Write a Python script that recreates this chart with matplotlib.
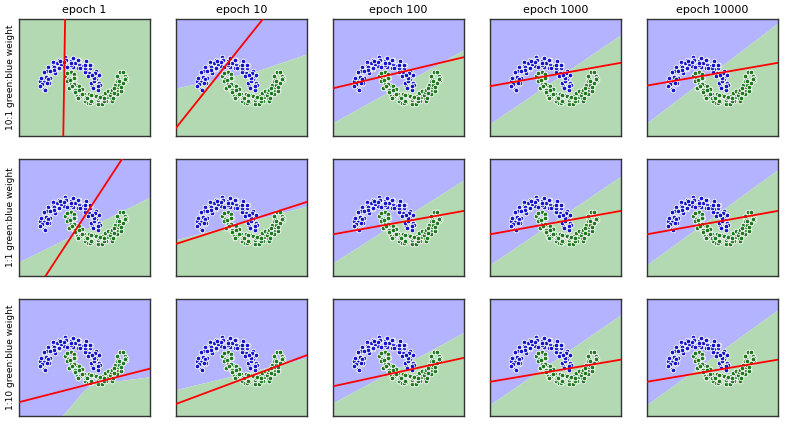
import matplotlib
matplotlib.use('Agg')
import matplotlib.pyplot as plt
import numpy as np

# two moons (data units)
blue_pts = [(0.92, -0.03), (0.75, 0.11), (0.97, 0.20), (0.81, 0.30), (1.01, 0.12), (0.78, 0.03),
            (0.87, 0.32), (0.70, 0.19), (0.93, 0.09), (0.95, 0.42), (0.80, 0.30), (0.73, 0.44),
            (0.80, 0.25), (0.96, 0.47), (0.73, 0.44), (0.81, 0.38), (0.64, 0.52), (0.86, 0.61),
            (0.65, 0.71), (0.85, 0.53), (0.62, 0.44), (0.68, 0.70), (0.51, 0.57), (0.74, 0.47),
            (0.71, 0.79), (0.56, 0.67), (0.49, 0.81), (0.53, 0.58), (0.69, 0.80), (0.46, 0.77),
            (0.50, 0.69), (0.33, 0.83), (0.55, 0.92), (0.31, 0.98), (0.51, 0.80), (0.28, 0.71),
            (0.31, 0.94), (0.14, 0.81), (0.37, 0.71), (0.33, 0.98), (0.18, 0.86), (0.11, 1.00),
            (0.12, 0.74), (0.28, 0.96), (0.05, 0.93), (0.08, 0.80), (-0.09, 0.94), (0.13, 1.03),
            (-0.12, 1.05), (0.08, 0.87), (-0.15, 0.78), (-0.12, 0.96), (-0.29, 0.83), (-0.06, 0.73),
            (-0.11, 0.96), (-0.26, 0.84), (-0.33, 0.98), (-0.31, 0.67), (-0.15, 0.89), (-0.38, 0.86),
            (-0.34, 0.69), (-0.51, 0.83), (-0.29, 0.92), (-0.52, 0.89), (-0.32, 0.71), (-0.55, 0.62),
            (-0.51, 0.77), (-0.68, 0.64), (-0.45, 0.54), (-0.47, 0.72), (-0.62, 0.60), (-0.69, 0.74),
            (-0.65, 0.40), (-0.49, 0.62), (-0.72, 0.59), (-0.65, 0.38), (-0.82, 0.52), (-0.60, 0.61),
            (-0.80, 0.56), (-0.60, 0.38), (-0.83, 0.29), (-0.75, 0.40), (-0.92, 0.27), (-0.69, 0.17),
            (-0.67, 0.34), (-0.82, 0.22), (-0.89, 0.36), (-0.80, -0.01), (-0.64, 0.21), (-0.87, 0.18),
            (-0.76, -0.03), (-0.93, 0.11), (-0.71, 0.20)]
green_pts = [(0.05, 0.56), (-0.12, 0.43), (0.11, 0.33), (0.16, 0.50), (0.01, 0.38), (-0.06, 0.52),
             (0.05, 0.15), (0.21, 0.37), (-0.02, 0.34), (0.12, 0.13), (-0.05, 0.27), (0.17, 0.36),
             (0.04, 0.30), (0.24, 0.12), (0.01, 0.03), (0.16, 0.15), (-0.01, 0.02), (0.22, -0.08),
             (0.31, 0.09), (0.16, -0.03), (0.09, 0.11), (0.25, -0.23), (0.41, -0.01), (0.18, -0.04),
             (0.36, -0.24), (0.19, -0.10), (0.41, -0.01), (0.32, -0.04), (0.52, -0.22), (0.29, -0.31),
             (0.47, -0.16), (0.30, -0.29), (0.53, -0.39), (0.65, -0.18), (0.50, -0.30), (0.43, -0.16),
             (0.61, -0.47), (0.77, -0.25), (0.54, -0.28), (0.75, -0.43), (0.58, -0.29), (0.80, -0.20),
             (0.72, -0.20), (0.92, -0.38), (0.69, -0.47), (0.89, -0.27), (0.72, -0.40), (0.95, -0.50),
             (1.08, -0.25), (0.93, -0.37), (0.86, -0.23), (1.05, -0.49), (1.21, -0.27), (0.98, -0.30),
             (1.18, -0.41), (1.01, -0.27), (1.23, -0.18), (1.15, -0.13), (1.35, -0.31), (1.12, -0.40),
             (1.31, -0.16), (1.14, -0.29), (1.37, -0.39), (1.48, -0.09), (1.33, -0.21), (1.26, -0.07),
             (1.43, -0.30), (1.59, -0.08), (1.36, -0.11), (1.54, -0.17), (1.37, -0.03), (1.59, 0.06),
             (1.49, 0.14), (1.69, -0.04), (1.46, -0.13), (1.62, 0.15), (1.45, 0.02), (1.68, -0.08),
             (1.76, 0.25), (1.61, 0.13), (1.54, 0.27), (1.67, 0.07), (1.83, 0.29), (1.60, 0.26),
             (1.74, 0.21), (1.57, 0.35), (1.79, 0.44), (1.65, 0.55), (1.85, 0.37), (1.62, 0.28),
             (1.73, 0.56), (1.56, 0.43), (1.79, 0.33)]

epochs = ['1', '10', '100', '1000', '10000']
ratios = ['10:1', '1:1', '1:10']

# red line: wx*x + wy*y + b = 0
red_wx = [[1.0, 1.296, 0.246, 0.185, 0.18],
          [1.582, 0.332, 0.185, 0.185, 0.185],
          [0.265, 0.386, 0.225, 0.175, 0.175]]
red_wy = [[-0.015, -1, -1, -1, -1],
          [-1, -1, -1, -1, -1],
          [-1, -1, -1, -1, -1]]
red_b = [[0.16, 0.787, 0.416, 0.388, 0.40],
         [-0.375, 0.034, 0.118, 0.118, 0.118],
         [-0.683, -0.548, -0.218, -0.148, -0.148]]

# background region boundary (blue above, green below)
bg_x = [[[-1.61, 2.61], [-1.61, 0.99, 2.61], [-1.61, 2.61], [-1.61, 2.61], [-1.61, 2.61]],
        [[-1.61, 2.61], [-1.61, 2.61], [-1.61, 2.61], [-1.61, 2.61], [-1.61, 2.61]],
        [[-1.61, -0.22, 0.5, 0.82, 2.61], [-1.61, 2.61], [-1.61, 2.61], [-1.61, 2.61], [-1.61, 2.61]]]
bg_y = [[[3.0, 3.0], [0.03, 0.6, 1.17], [-1.13, 1.31], [-1.16, 1.81], [-1.13, 2.2]],
        [[-1.1, 1.06], [-0.36, 0.76], [-1.13, 1.64], [-1.19, 1.76], [-1.19, 1.98]],
        [[-3.5, -1.57, -0.69, -0.5, -0.26], [-0.69, 0.37], [-1.13, 1.22], [-1.19, 1.81], [-1.19, 1.98]]]

xlim = (-1.61, 2.61)
ylim = (-1.57, 2.33)

bx, by = np.array(blue_pts).T
gx, gy = np.array(green_pts).T

fig = plt.figure(figsize=(7.89, 4.25), dpi=100)
W, H = 789.0, 425.0
lefts = [19, 176, 333, 490, 647]
tops = [19, 159, 299]

for r in range(3):
    for c in range(5):
        ax = fig.add_axes([lefts[c] / W, 1 - (tops[r] + 117) / H, 131 / W, 117 / H])
        xs = np.array(bg_x[r][c])
        ys = np.array(bg_y[r][c])
        ax.fill_between(xs, ys, 10, color='#b3b3ff', lw=0)
        ax.fill_between(xs, -10, ys, color='#b3d9b3', lw=0)
        ax.scatter(bx, by, s=11, c='#1414c8', edgecolors='white', linewidths=0.6, zorder=3)
        ax.scatter(gx, gy, s=11, c='#1e781e', edgecolors='white', linewidths=0.6, zorder=3)

        wx, wy, b = red_wx[r][c], red_wy[r][c], red_b[r][c]
        if abs(wy) > abs(wx):
            lx = np.array([-3, 4])
            ly = -(wx * lx + b) / wy
        else:
            ly = np.array([-3, 4])
            lx = -(wy * ly + b) / wx
        ax.plot(lx, ly, color='red', lw=1.3, zorder=4)

        ax.set_xlim(xlim)
        ax.set_ylim(ylim)
        ax.set_xticks([])
        ax.set_yticks([])
        for sp in ax.spines.values():
            sp.set_color('#333333')
            sp.set_linewidth(1.0)
        if r == 0:
            ax.set_title('epoch ' + epochs[c], fontsize=8, pad=4)
        if c == 0:
            ax.set_ylabel(ratios[r] + ' green:blue weight', fontsize=6.5, labelpad=3)

plt.savefig('out.png', dpi=100)
